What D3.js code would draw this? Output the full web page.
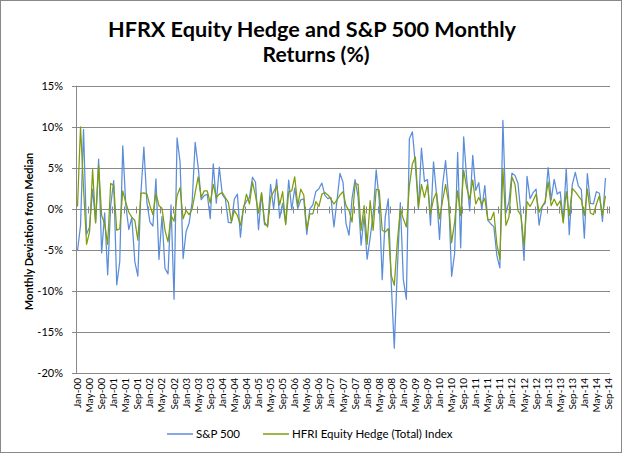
<!DOCTYPE html>
<html><head><meta charset="utf-8">
<script src="https://cdn.jsdelivr.net/npm/d3@7"></script>
<style>body{margin:0;background:#fff} svg{display:block} text{font-family:Lato,"Open Sans",sans-serif;fill:#000}</style>
</head><body><svg id="c" width="624" height="455"></svg>
<script>
// S&P 500 monthly returns (%), Jan-00 .. Sep-14 (last month not plotted)
const sp500 = [
-5.09,-2.01,9.67,-3.08,-2.19,2.39,-1.63,6.07,-5.35,-0.49,-8.01,0.41,
3.46,-9.23,-6.42,7.68,0.51,-2.50,-1.07,-6.41,-8.17,1.81,7.52,0.76,
-1.56,-2.08,3.67,-6.14,-0.91,-7.25,-7.90,0.49,-11.00,8.64,5.71,-6.03,
-2.74,-1.70,0.84,8.10,5.09,1.13,1.62,1.79,-1.19,5.50,0.71,5.08,
1.73,1.22,-1.64,-1.68,1.21,1.80,-3.43,0.23,0.94,1.40,3.86,3.25,
-2.53,1.89,-1.91,-2.01,3.00,-0.01,3.60,-1.12,0.69,-1.77,3.52,-0.10,
2.55,0.05,1.11,1.22,-3.09,0.01,0.51,2.13,2.46,3.15,1.65,1.26,
1.41,-2.18,1.00,4.33,3.25,-1.78,-3.20,1.29,3.58,1.48,-4.40,-0.86,
-6.12,-3.48,-0.60,4.75,1.07,-8.60,-0.99,1.22,-9.08,-16.94,-7.48,0.78,
-8.57,-10.99,8.54,9.39,5.31,0.02,7.41,3.36,3.57,-1.98,5.74,1.78,
-3.70,2.85,5.88,1.48,-8.20,-5.39,6.88,-4.74,8.76,3.69,-0.23,6.53,
2.26,3.20,-0.10,2.85,-1.35,-1.83,-2.15,-5.68,-7.18,10.77,-0.51,0.85,
4.36,4.06,3.13,-0.75,-6.27,3.96,1.26,1.98,2.42,-1.98,0.28,0.71,
5.04,1.11,3.60,1.81,2.08,-1.50,4.95,-3.13,2.97,4.46,2.80,2.36,
-3.56,4.31,0.69,0.62,2.10,1.91,-1.51,3.77,null
];
// HFRI Equity Hedge (Total) Index monthly returns (%)
const hfri = [
0.3,10.0,2.5,-4.3,-2.8,4.8,-1.7,5.3,-0.8,-1.8,-4.3,3.1,
2.9,-2.6,-2.4,2.2,0.8,-0.4,-1.0,-1.4,-3.8,1.9,1.95,1.8,
0.4,-0.7,1.9,0.4,0.1,-2.6,-4.0,-0.8,-1.5,1.6,2.6,-1.2,
-0.2,-0.7,0.0,2.0,3.9,1.4,2.2,2.2,0.7,3.0,1.4,1.8,
2.0,1.4,0.8,-1.6,-0.2,-0.8,-2.0,0.0,1.8,0.6,3.3,1.6,
-0.5,2.0,-1.6,-2.2,1.4,2.1,2.8,0.5,2.1,-1.9,2.1,2.2,
3.9,0.4,2.4,1.7,-2.5,-0.6,-0.6,0.9,0.3,1.8,2.0,1.7,
1.2,0.6,1.1,1.7,2.1,0.4,-0.2,-1.6,3.1,3.0,-2.6,0.4,
-4.3,1.0,-2.6,2.4,2.3,-2.6,-2.8,-2.4,-8.1,-9.3,-4.1,0.0,
-1.2,-2.2,2.8,5.5,6.3,0.2,3.0,1.4,3.0,-0.6,1.2,2.0,
-1.2,1.0,3.0,0.8,-4.1,-1.6,2.2,-0.8,4.7,2.6,1.2,3.5,
0.6,1.4,0.6,1.3,-1.3,-1.3,-0.4,-4.3,-6.1,4.9,-2.0,-1.0,
3.9,3.0,-0.2,-0.8,-4.5,0.9,0.3,1.0,1.8,-0.4,0.3,0.9,
3.3,0.4,1.2,0.4,1.0,-1.7,2.1,-0.8,2.5,2.1,1.6,1.1,
-0.8,2.4,-0.5,-0.7,0.6,1.6,-0.8,1.6,null
];
const yTicks = [-20,-15,-10,-5,0,5,10,15];
const months = d3.timeMonth.range(new Date(2000,0,1), new Date(2014,9,1));
const categories = months.map(d3.timeFormat("%b-%y"));
const labelEvery = 4;
const seriesNames = ["S&P 500","HFRI Equity Hedge (Total) Index"];
const colors = ["#5B8DDB","#7E9C0C"];

const svg = d3.select("#c");
const P = {left:76, right:610, top:85.7, bottom:373.3};
const x = d3.scaleBand().domain(categories).range([P.left,P.right]).padding(0);
const y = d3.scaleLinear().domain([-20,15]).range([P.bottom,P.top]);
const cx = c => x(c) + x.bandwidth()/2;

// chart border
svg.append("rect").attr("x",0.5).attr("y",0.5).attr("width",621).attr("height",452)
  .attr("fill","#fff").attr("stroke","#888").attr("stroke-width",1);

// title
svg.append("text").attr("x",312).attr("y",37).attr("text-anchor","middle")
  .style("font-size","21px").style("font-weight","bold")
  .attr("textLength",408).attr("lengthAdjust","spacingAndGlyphs")
  .text("HFRX Equity Hedge and S&P 500 Monthly");
svg.append("text").attr("x",316).attr("y",62).attr("text-anchor","middle")
  .style("font-size","21px").style("font-weight","bold")
  .attr("textLength",107).attr("lengthAdjust","spacingAndGlyphs")
  .text("Returns (%)");

// gridlines + y labels
const gy = svg.append("g");
yTicks.forEach(t=>{
  gy.append("line").attr("x1",P.left-4).attr("x2",P.right)
    .attr("y1",Math.round(y(t))+0.5).attr("y2",Math.round(y(t))+0.5)
    .attr("stroke","#888").attr("stroke-width",1);
  gy.append("text").attr("x",63).attr("y",y(t)).attr("dy","0.35em")
    .attr("text-anchor","end").style("font-size","11px").text(t+"%");
});
// y axis line
svg.append("line").attr("x1",P.left+0.5).attr("x2",P.left+0.5).attr("y1",P.top).attr("y2",P.bottom)
  .attr("stroke","#888");
// y axis title
svg.append("text").attr("transform",`translate(33,${(P.top+P.bottom)/2+2}) rotate(-90)`)
  .attr("text-anchor","middle").style("font-size","11px").style("font-weight","bold")
  .text("Monthly Deviation from Median");

// x tick marks on zero line
const y0 = Math.round(y(0))+0.5;
const tickIdx = d3.range(0, categories.length, labelEvery);
tickIdx.forEach(i=>{
  const xx = Math.round(x(categories[i]))+0.5;
  svg.append("line").attr("x1",xx).attr("x2",xx).attr("y1",y0-3).attr("y2",y0+4).attr("stroke","#888");
});
svg.append("line").attr("x1",P.right-0.5).attr("x2",P.right-0.5).attr("y1",y0-3).attr("y2",y0+4).attr("stroke","#888");

// x labels
tickIdx.forEach(i=>{
  svg.append("text").attr("transform",`translate(${cx(categories[i])},378) rotate(-90)`)
    .attr("text-anchor","end").attr("dy","0.35em").style("font-size","10px").text(categories[i]);
});

// lines
const line = d3.line().defined(d=>d.v!=null).x(d=>cx(d.c)).y(d=>y(d.v));
[sp500,hfri].forEach((arr,k)=>{
  svg.append("path").datum(arr.map((v,i)=>({c:categories[i],v})))
    .attr("d",line).attr("fill","none").attr("stroke",colors[k])
    .attr("stroke-width",1.25).attr("stroke-linejoin","round");
});

// legend
const leg = [{x:167,tx:196},{x:263,tx:292}];
leg.forEach((L,k)=>{
  svg.append("line").attr("x1",L.x).attr("x2",L.x+26).attr("y1",434).attr("y2",434)
    .attr("stroke",colors[k]).attr("stroke-width",1.5);
  svg.append("text").attr("x",L.tx).attr("y",434).attr("dy","0.35em")
    .style("font-size","11.5px").text(seriesNames[k]);
});
</script></body></html>
